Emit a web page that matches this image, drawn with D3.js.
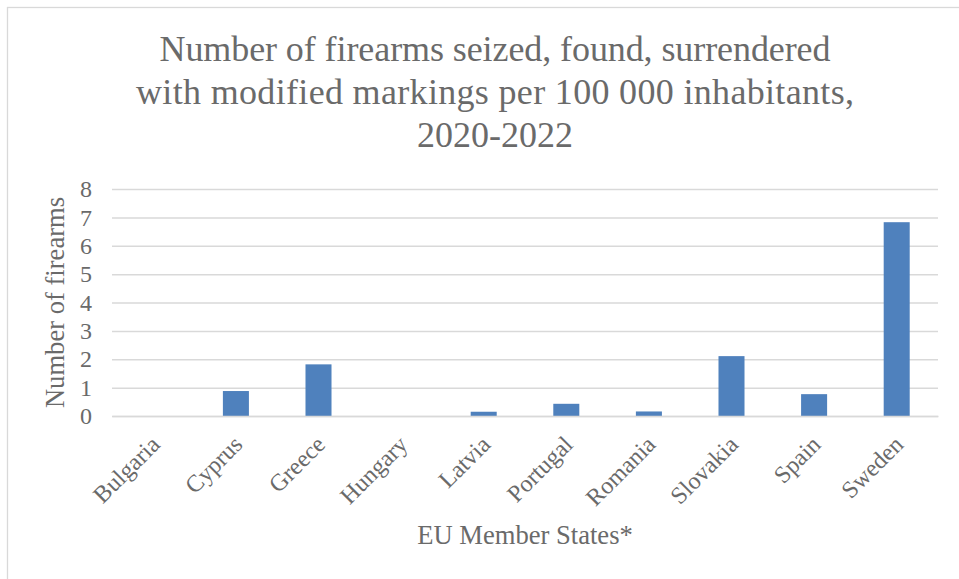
<!DOCTYPE html>
<html>
<head>
<meta charset="utf-8">
<script src="https://cdn.jsdelivr.net/npm/d3@7"></script>
<style>
  html, body { margin: 0; padding: 0; background: #ffffff; }
  svg { display: block; }
</style>
</head>
<body>
<svg id="chart" width="959" height="579"></svg>
<script>
const categories = ["Bulgaria", "Cyprus", "Greece", "Hungary", "Latvia", "Portugal", "Romania", "Slovakia", "Spain", "Sweden"];
const values = [0, 0.88, 1.82, 0, 0.15, 0.43, 0.16, 2.11, 0.77, 6.83];
const yTicks = [0, 1, 2, 3, 4, 5, 6, 7, 8];
const titleLines = ["Number of firearms seized, found, surrendered", "with modified markings per 100 000 inhabitants,", "2020-2022"];
const xAxisTitle = "EU Member States*";
const yAxisTitle = "Number of firearms";

const W = 959, H = 579;
const plot = { left: 112, right: 938, top: 189, bottom: 416 };
const textColor = "#6a6a6a";
const gridColor = "#d9d9d9";
const barColor = "#4f81bd";
const font = "'Liberation Serif', 'Times New Roman', serif";
const titleLineWidths = [671, 718, null];

const svg = d3.select("#chart");

// chart area border
svg.append("rect")
  .attr("x", 7.5).attr("y", 7.5)
  .attr("width", W + 20).attr("height", H + 20)
  .attr("fill", "#ffffff")
  .attr("stroke", gridColor)
  .attr("stroke-width", 1.3);

const x = d3.scaleBand()
  .domain(categories)
  .range([plot.left, plot.right])
  .paddingInner(0.685)
  .paddingOuter(0.3425);

const y = d3.scaleLinear()
  .domain([0, 8])
  .range([plot.bottom, plot.top]);

// gridlines
const grid = svg.append("g")
  .attr("transform", `translate(${plot.left},0)`)
  .call(d3.axisLeft(y).tickValues(yTicks).tickSize(-(plot.right - plot.left)).tickFormat(""));
grid.select(".domain").remove();
grid.selectAll(".tick line").attr("stroke", gridColor).attr("stroke-width", 1.5);

// y axis labels
const yAxis = svg.append("g")
  .attr("transform", `translate(${plot.left},0)`)
  .call(d3.axisLeft(y).tickValues(yTicks).tickSize(0).tickPadding(20).tickFormat(d3.format("d")));
yAxis.select(".domain").remove();
yAxis.selectAll("text")
  .attr("fill", textColor)
  .style("font-family", font)
  .style("font-size", "24px");

// bars
svg.append("g").selectAll("rect")
  .data(categories.map((c, i) => ({ c, v: values[i] })))
  .join("rect")
  .attr("x", d => x(d.c))
  .attr("width", x.bandwidth())
  .attr("y", d => y(d.v))
  .attr("height", d => y(0) - y(d.v))
  .attr("fill", barColor);

// x axis
const xAxis = svg.append("g")
  .attr("transform", `translate(0,${plot.bottom})`)
  .call(d3.axisBottom(x).tickSize(0).tickPadding(0));
xAxis.select(".domain")
  .attr("stroke", gridColor)
  .attr("stroke-width", 1.5);
xAxis.selectAll(".tick text")
  .attr("fill", textColor)
  .style("font-family", font)
  .style("font-size", "24px")
  .attr("text-anchor", "end")
  .attr("dy", null)
  .attr("y", null)
  .attr("transform", "translate(8,30) rotate(-45)");

// title
titleLines.forEach((line, i) => {
  const t = svg.append("text")
    .attr("x", 495)
    .attr("y", 61 + i * 43)
    .attr("text-anchor", "middle")
    .attr("fill", textColor)
    .style("font-family", font)
    .style("font-size", "36px")
    .text(line);
  if (titleLineWidths[i]) {
    t.attr("textLength", titleLineWidths[i]).attr("lengthAdjust", "spacing");
  }
});

// x axis title
svg.append("text")
  .attr("x", (plot.left + plot.right) / 2)
  .attr("y", 544)
  .attr("text-anchor", "middle")
  .attr("fill", textColor)
  .style("font-family", font)
  .style("font-size", "26.6px")
  .text(xAxisTitle);

// y axis title
svg.append("text")
  .attr("transform", `translate(64,${(plot.top + plot.bottom) / 2}) rotate(-90)`)
  .attr("text-anchor", "middle")
  .attr("fill", textColor)
  .style("font-family", font)
  .style("font-size", "26.6px")
  .text(yAxisTitle);
</script>
</body>
</html>
